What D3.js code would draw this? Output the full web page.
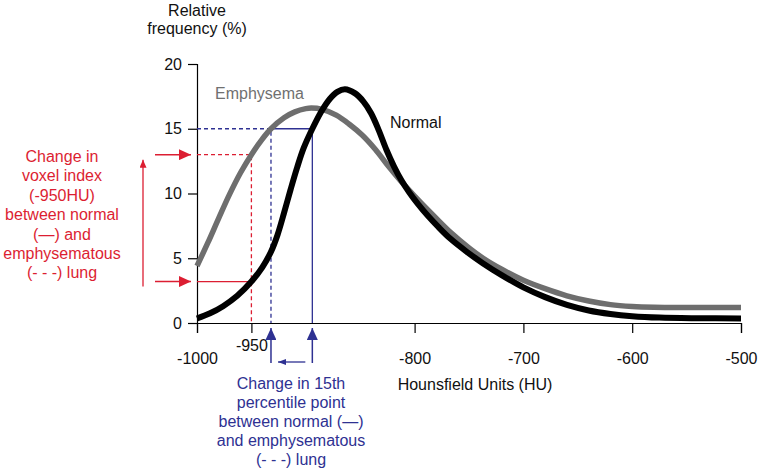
<!DOCTYPE html>
<html>
<head>
<meta charset="utf-8">
<script src="https://cdn.jsdelivr.net/npm/d3@7"></script>
<style>
  body { margin: 0; background: #fff; }
  svg { font-family: "Liberation Sans", Arial, sans-serif; }
</style>
</head>
<body>
<svg width="764" height="476"></svg>
<script>
// data
const normalHU   = [-1000, -988, -976, -963, -950, -940, -932, -926, -920, -914, -908, -902, -894, -886, -878, -871, -864, -855, -847, -840, -833, -826, -819, -812, -805, -797, -788, -778, -767, -752, -737, -720, -700, -680, -660, -640, -620, -600, -575, -540, -500];
const normalFreq = [0.35, 0.75, 1.3, 2.1, 3.2, 4.3, 5.5, 6.8, 8.5, 10.3, 12.0, 13.5, 15.0, 16.3, 17.3, 17.85, 18.05, 17.75, 17.1, 16.2, 14.9, 13.4, 12.1, 11.0, 10.1, 9.2, 8.3, 7.4, 6.5, 5.5, 4.6, 3.7, 2.75, 2.0, 1.4, 0.97, 0.7, 0.53, 0.42, 0.37, 0.35];
const emphHU     = [-1000, -990, -980, -970, -960, -950, -940, -932, -920, -910, -900, -895, -885, -872, -860, -848, -836, -824, -812, -800, -785, -767, -750, -737, -720, -700, -680, -660, -640, -620, -600, -580, -550, -500];
const emphFreq   = [4.4, 6.2, 8.1, 9.95, 11.6, 13.0, 14.2, 15.0, 15.85, 16.3, 16.55, 16.6, 16.5, 16.05, 15.35, 14.5, 13.4, 12.1, 10.9, 9.8, 8.5, 7.0, 5.8, 5.0, 4.15, 3.3, 2.65, 2.1, 1.7, 1.42, 1.28, 1.22, 1.2, 1.2];
const xTicks = [-1000, -950, -800, -700, -600, -500];
const yTicks = [0, 5, 10, 15, 20];

// annotation values
const voxelHU = -950;
const voxelLevels = [13.0, 3.2];       // emphysema, normal at -950 HU
const pctLevel = 15;
const pctHU = [-932, -894];            // emphysema, normal crossing 15%

const redText = ['Change in', 'voxel index', '(-950HU)', 'between normal', '(\u2014) and', 'emphysematous', '(- - -) lung'];
const blueText = ['Change in 15th', 'percentile point', 'between normal (\u2014)', 'and emphysematous', '(- - -) lung'];

const RED = '#dc1e32', BLUE = '#2e3192';

const svg = d3.select('svg');
const x = d3.scaleLinear().domain([-1000, -500]).range([197, 741]);
const y = d3.scaleLinear().domain([0, 20]).range([323, 64]);

const defs = svg.append('defs');
const marker = (id, color, w, h) => defs.append('marker')
    .attr('id', id).attr('markerUnits', 'userSpaceOnUse')
    .attr('viewBox', `0 0 ${w} ${h}`).attr('refX', w).attr('refY', h / 2)
    .attr('markerWidth', w).attr('markerHeight', h).attr('orient', 'auto')
  .append('path').attr('d', `M0,0L${w},${h / 2}L0,${h}Z`).attr('fill', color);
marker('redHead', RED, 12, 11);
marker('redSmall', RED, 8, 7);
marker('blueHead', BLUE, 12, 11);
marker('blueSmall', BLUE, 8, 6);

// axes
const xAxis = svg.append('g').attr('transform', `translate(0,${y(0)})`)
  .call(d3.axisBottom(x).tickValues(xTicks).tickSize(10).tickPadding(20).tickFormat(d => String(d)));
const yAxis = svg.append('g').attr('transform', `translate(${x(-1000)},0)`)
  .call(d3.axisLeft(y).tickValues(yTicks).tickSize(9).tickPadding(6));
[xAxis, yAxis].forEach(a => {
  a.select('.domain').attr('stroke', '#000').attr('stroke-width', 1.2);
  a.selectAll('.tick line').attr('stroke', '#000').attr('stroke-width', 1.2);
  a.selectAll('text').attr('font-size', 16).attr('fill', '#111').attr('font-family', '"Liberation Sans", Arial, sans-serif');
});
xAxis.selectAll('.tick').filter(d => d === -950).select('text').attr('dy', '-0.1em');

// reference lines
const lines = svg.append('g').attr('fill', 'none');
lines.append('path').attr('stroke', RED).attr('stroke-width', 1.3).attr('stroke-dasharray', '4,3')
  .attr('d', `M${x(-1000)},${y(voxelLevels[0])}H${x(voxelHU)}V${y(0)}`);
lines.append('path').attr('stroke', RED).attr('stroke-width', 1.3)
  .attr('d', `M${x(-1000)},${y(voxelLevels[1])}H${x(voxelHU)}`);
lines.append('path').attr('stroke', BLUE).attr('stroke-width', 1.3).attr('stroke-dasharray', '4,3')
  .attr('d', `M${x(-1000)},${y(pctLevel)}H${x(pctHU[0])}V${y(0)}`);
lines.append('path').attr('stroke', BLUE).attr('stroke-width', 1.3)
  .attr('d', `M${x(pctHU[0])},${y(pctLevel)}H${x(pctHU[1])}V${y(0)}`);

// curves
const line = d3.line().x(d => x(d[0])).y(d => y(d[1])).curve(d3.curveCatmullRom.alpha(0.5));
svg.append('path').datum(d3.zip(emphHU, emphFreq))
  .attr('fill', 'none').attr('stroke', '#6e6e6e').attr('stroke-width', 5.5).attr('d', line);
svg.append('path').datum(d3.zip(normalHU, normalFreq))
  .attr('fill', 'none').attr('stroke', '#000').attr('stroke-width', 6).attr('d', line);

// red arrows on the left
voxelLevels.forEach(v => {
  svg.append('line').attr('x1', 155).attr('x2', 191).attr('y1', y(v)).attr('y2', y(v))
    .attr('stroke', RED).attr('stroke-width', 1.5).attr('marker-end', 'url(#redHead)');
});
svg.append('line').attr('x1', 143).attr('x2', 143).attr('y1', y(voxelLevels[1]) + 5).attr('y2', y(voxelLevels[0]) + 5)
  .attr('stroke', RED).attr('stroke-width', 1.3).attr('marker-end', 'url(#redSmall)');

// blue arrows under the axis
pctHU.forEach(h => {
  svg.append('line').attr('x1', x(h)).attr('x2', x(h)).attr('y1', 363).attr('y2', 328)
    .attr('stroke', BLUE).attr('stroke-width', 1.5).attr('marker-end', 'url(#blueHead)');
});
svg.append('line').attr('x1', x(pctHU[1]) - 7).attr('x2', x(pctHU[0]) + 7).attr('y1', 362).attr('y2', 362)
  .attr('stroke', BLUE).attr('stroke-width', 1.3).attr('marker-end', 'url(#blueSmall)');

// text
const txt = (t, tx, ty, color, anchor = 'middle') => svg.append('text')
  .attr('x', tx).attr('y', ty).attr('fill', color).attr('font-size', 16)
  .attr('text-anchor', anchor).text(t);
txt('Relative', 197, 16, '#111');
txt('frequency (%)', 197, 34, '#111');
txt('Hounsfield Units (HU)', 475, 390, '#111');
txt('Emphysema', 215, 99, '#707070', 'start');
txt('Normal', 390, 128, '#111', 'start');
redText.forEach((t, i) => txt(t, 62, 162 + i * 19.4, RED));
blueText.forEach((t, i) => txt(t, 291, 389 + i * 19, BLUE));
</script>
</body>
</html>
